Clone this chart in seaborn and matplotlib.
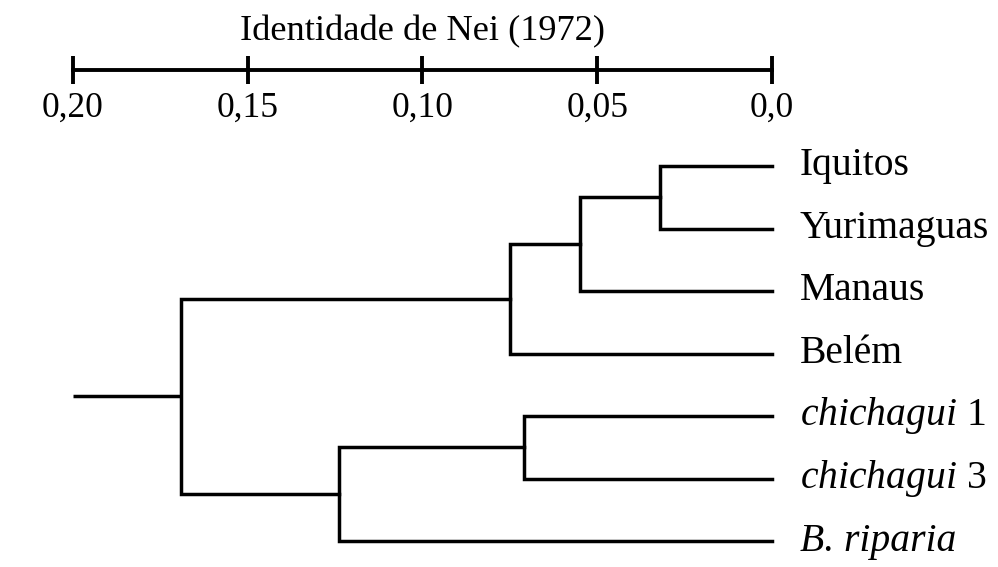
import matplotlib
matplotlib.use("Agg")
import matplotlib.pyplot as plt
import seaborn as sns

# Data: leaves (top to bottom) and merges (child a, child b, distance), scipy-style ids
LEAVES = ["Iquitos", "Yurimaguas", "Manaus", "Belém", "chichagui 1", "chichagui 3", "B. riparia"]
MERGES = [
    (0, 1, 0.032),
    (7, 2, 0.055),
    (8, 3, 0.075),
    (4, 5, 0.071),
    (10, 6, 0.124),
    (9, 11, 0.169),
]
ROOT_STEM = 0.20
TICKS = [0.20, 0.15, 0.10, 0.05, 0.0]
TICK_LABELS = ["0,20", "0,15", "0,10", "0,05", "0,0"]
TITLE = "Identidade de Nei (1972)"

sns.set_theme(style="white")
plt.rcParams["font.family"] = ["Liberation Serif", "DejaVu Serif"]
plt.rcParams["mathtext.fontset"] = "custom"
plt.rcParams["mathtext.rm"] = "Liberation Serif"
plt.rcParams["mathtext.it"] = "Liberation Serif:italic"
plt.rcParams["text.color"] = "black"
plt.rcParams["xtick.color"] = "black"
plt.rcParams["xtick.labelcolor"] = "black"

LW = 2.5
FS = 25.5
TITLE_FS = 26.2
LEAF_FS = 28.5

fig = plt.figure(figsize=(9.98, 5.67), dpi=100)
ax = fig.add_axes([0, 0, 1, 1])
ax.set_xlim(0.2209, -0.0647)
ax.set_ylim(6.416, -2.656)

# tree
pos = {i: (0.0, float(i)) for i in range(len(LEAVES))}
for k, (a, b, h) in enumerate(MERGES):
    xa, ya = pos[a]
    xb, yb = pos[b]
    ax.plot([xa, h, h, xb], [ya, ya, yb, yb], color="black", lw=LW,
            solid_capstyle="projecting", solid_joinstyle="miter")
    pos[len(LEAVES) + k] = (h, (ya + yb) / 2)
rx, ry = pos[len(LEAVES) + len(MERGES) - 1]
ax.plot([rx, ROOT_STEM], [ry, ry], color="black", lw=LW, solid_capstyle="butt")

# leaf labels
for i, name in enumerate(LEAVES):
    if name.startswith("chichagui"):
        word, num = name.split(" ")
        label = r"$\mathit{" + word + "}$ " + num
        style = "normal"
    elif name.startswith("B."):
        label, style = name, "italic"
    else:
        label, style = name, "normal"
    ax.text(-0.008, i, label, ha="left", va="center", fontsize=LEAF_FS,
            fontstyle=style, color="black")

# scale bar as the bottom spine
sns.despine(ax=ax, left=True, top=True, right=True, bottom=False)
ax.spines["bottom"].set_position(("data", -1.536))
ax.spines["bottom"].set_bounds(0.0, 0.2)
ax.spines["bottom"].set_linewidth(2.8)
ax.spines["bottom"].set_color("black")
ax.set_xticks(TICKS)
ax.set_xticklabels(TICK_LABELS, fontsize=FS)
ax.tick_params(axis="x", direction="inout", length=20, width=2.8, color="black",
               pad=6, bottom=True, labelbottom=True)
ax.set_yticks([])
ax.text(0.10, -2.15, TITLE, ha="center", va="center", fontsize=TITLE_FS, color="black")

fig.savefig("out.png", dpi=100, facecolor="white")
